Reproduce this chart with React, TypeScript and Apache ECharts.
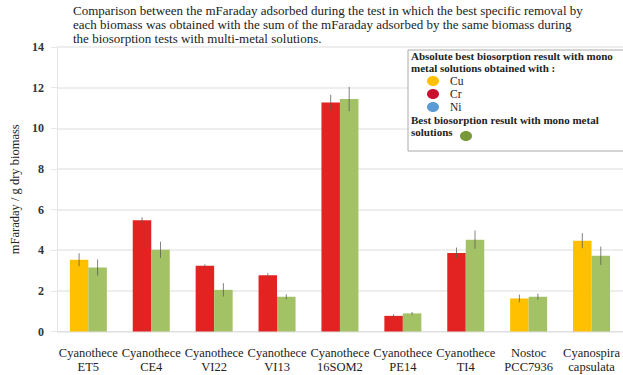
import React, { useEffect, useRef } from "react";
import * as echarts from "echarts";

const categories = [
  "Cyanothece\nET5",
  "Cyanothece\nCE4",
  "Cyanothece\nVI22",
  "Cyanothece\nVI13",
  "Cyanothece\n16SOM2",
  "Cyanothece\nPE14",
  "Cyanothece\nTI4",
  "Nostoc\nPCC7936",
  "Cyanospira\ncapsulata",
];
const monoMetal = ["Cu", "Cr", "Cr", "Cr", "Cr", "Cr", "Cr", "Cu", "Cu"];
const monoValues = [3.53, 5.47, 3.23, 2.77, 11.27, 0.77, 3.86, 1.63, 4.47];
const monoErrors = [0.32, 0.15, 0.08, 0.1, 0.38, 0.08, 0.27, 0.19, 0.37];
const multiValues = [3.15, 4.02, 2.05, 1.71, 11.44, 0.89, 4.52, 1.71, 3.73];
const multiErrors = [0.4, 0.4, 0.33, 0.12, 0.6, 0.07, 0.45, 0.15, 0.45];
const yMin = 0;
const yMax = 14;
const yInterval = 2;

const titleLines = [
  "Comparison between the mFaraday adsorbed during the test in which the best specific removal by",
  "each biomass was obtained with the sum of the mFaraday adsorbed by the same biomass during",
  "the biosorption tests with multi-metal solutions.",
];
const legendHeader = ["Absolute best biosorption result with mono", "metal solutions obtained with :"];
const legendMetals = ["Cu", "Cr", "Ni"];
const legendMulti = ["Best biosorption result with mono metal", "solutions"];

const metalColors: Record<string, string> = { Cu: "#FFC000", Cr: "#E32322", Ni: "#5B9BD5" };
const legendMetalColors: Record<string, string> = { Cu: "#FFC000", Cr: "#C8102E", Ni: "#5B9BD5" };
const greenBar = "#A3C165";
const greenLegend = "#77993A";
const SERIF = "Liberation Serif";
const BAR_W = 18.5;

function errorSeries(values: number[], errors: number[], offset: number) {
  return {
    type: "custom",
    z: 10,
    data: values.map((v, i) => [i, v, errors[i]]),
    encode: { x: 0, y: 1 },
    renderItem: (params: any, api: any) => {
      const i = api.value(0);
      const v = api.value(1);
      const e = api.value(2);
      const top = api.coord([i, v + e]);
      const bot = api.coord([i, v - e]);
      const x = top[0] + offset;
      return {
        type: "line",
        shape: { x1: x, y1: top[1], x2: x, y2: bot[1] },
        style: { stroke: "rgba(90,90,90,0.75)", lineWidth: 1 },
      };
    },
  };
}

export default function App() {
  const ref = useRef<HTMLDivElement>(null);
  useEffect(() => {
    if (!ref.current) return;
    const chart = echarts.init(ref.current, undefined, { renderer: "svg" });
    const graphics: any[] = [];
    titleLines.forEach((t, k) => {
      graphics.push({
        type: "text",
        x: 73,
        y: 10 + k * 14,
        style: {
          text: t,
          fontFamily: SERIF,
          fontSize: 13,
          fill: "#222",
          verticalAlign: "middle",
        },
      });
    });
    graphics.push({
      type: "rect",
      shape: { x: 408, y: 50, width: 220, height: 101 },
      style: { fill: "#fff", stroke: "#aaa", lineWidth: 1 },
      z: 100,
    });
    legendHeader.forEach((t, k) => {
      graphics.push({
        type: "text",
        x: 411,
        y: 56 + k * 12,
        style: {
          text: t,
          fontFamily: SERIF,
          fontSize: 11,
          fontWeight: "bold",
          fill: "#222",
          verticalAlign: "middle",
        },
        z: 101,
      });
    });
    legendMetals.forEach((m, k) => {
      graphics.push({
        type: "ellipse",
        shape: { cx: 433, cy: 81 + k * 13, rx: 6, ry: 5 },
        style: { fill: legendMetalColors[m] },
        z: 101,
      });
      graphics.push({
        type: "text",
        x: 450,
        y: 81 + k * 13,
        style: { text: m, fontFamily: SERIF, fontSize: 11.5, fill: "#222", verticalAlign: "middle" },
        z: 101,
      });
    });
    legendMulti.forEach((t, k) => {
      graphics.push({
        type: "text",
        x: 411,
        y: 120 + k * 12,
        style: {
          text: t,
          fontFamily: SERIF,
          fontSize: 11,
          fontWeight: "bold",
          fill: "#222",
          verticalAlign: "middle",
        },
        z: 101,
      });
    });
    graphics.push({
      type: "ellipse",
      shape: { cx: 466, cy: 136, rx: 6, ry: 5 },
      style: { fill: greenLegend },
      z: 101,
    });

    chart.setOption({
      animation: false,
      grid: { left: 50, top: 47, width: 580, height: 284.5 },
      xAxis: {
        type: "category",
        data: categories,
        axisLine: { show: true, lineStyle: { color: "#e0e0e0" } },
        axisTick: { show: false },
        axisLabel: {
          interval: 0,
          margin: 14,
          fontFamily: SERIF,
          fontSize: 12.5,
          lineHeight: 14,
          color: "#222",
        },
      },
      yAxis: {
        type: "value",
        min: yMin,
        max: yMax,
        interval: yInterval,
        name: "mFaraday / g dry biomass",
        nameLocation: "middle",
        nameGap: 34,
        nameTextStyle: { fontFamily: SERIF, fontSize: 12.5, color: "#222" },
        axisLine: { show: true, lineStyle: { color: "#e6e6e6" } },
        axisTick: { show: true, length: 6, lineStyle: { color: "#e6e6e6" } },
        axisLabel: { fontFamily: SERIF, fontSize: 12, fontWeight: "bold", color: "#333", margin: 13 },
        splitLine: { lineStyle: { color: "#e8e8e8", width: 1.5 } },
      },
      series: [
        {
          type: "bar",
          barWidth: BAR_W,
          barGap: "0%",
          data: monoValues.map((v, i) => ({ value: v, itemStyle: { color: metalColors[monoMetal[i]] } })),
        },
        {
          type: "bar",
          barWidth: BAR_W,
          barGap: "0%",
          data: multiValues,
          itemStyle: { color: greenBar },
        },
        errorSeries(monoValues, monoErrors, -BAR_W / 2),
        errorSeries(multiValues, multiErrors, BAR_W / 2),
      ],
      graphic: graphics,
    });
    return () => chart.dispose();
  }, []);
  return <div ref={ref} style={{ position: "absolute", left: 0, top: 0, width: 623, height: 375 }} />;
}
